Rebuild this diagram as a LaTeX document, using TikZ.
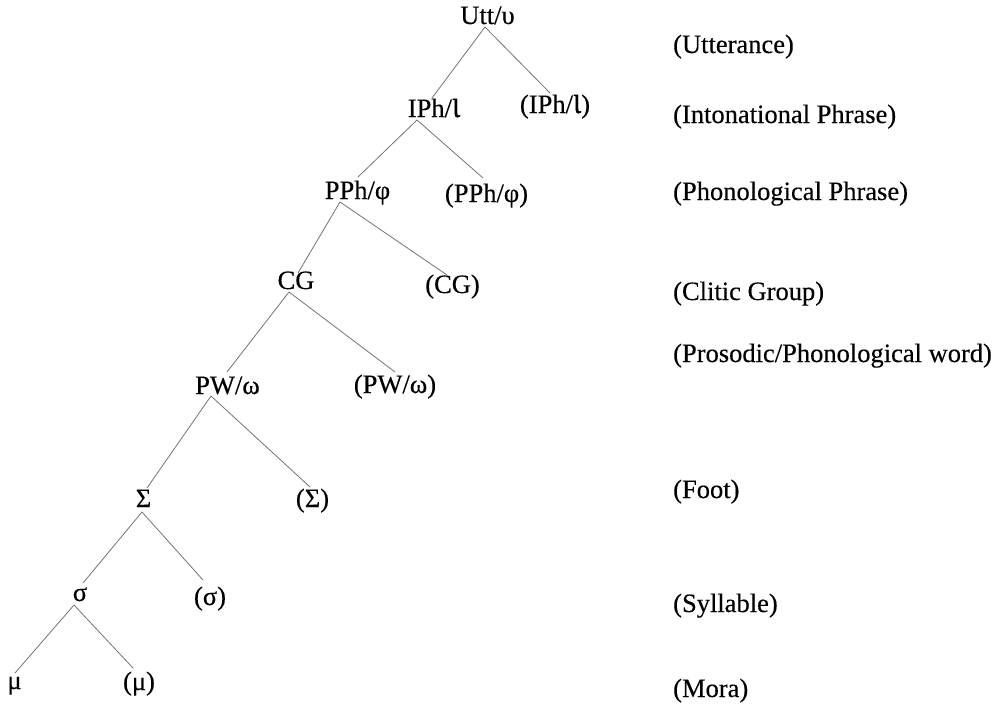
\documentclass[tikz,border=0pt]{standalone}
\usepackage{graphicx}
\usepackage{fontspec}
\setmainfont{Liberation Serif}[FakeBold=0.3]
\newcommand{\tiota}{\raisebox{0pt}{\scalebox{1.15}[1.5]{ι}}}
\begin{document}
\begin{tikzpicture}[x=1pt,y=-1pt,
  tn/.style={anchor=base,inner sep=0pt,font=\fontsize{26.5}{30}\selectfont},
  lab/.style={anchor=base west,inner sep=0pt,font=\fontsize{26.5}{30}\selectfont},
  edge/.style={draw=black!55,line width=0.8pt}]
\useasboundingbox (0,0) rectangle (1002,705);
% tree nodes
\node[tn] (utt)  at (487.5,24)  {Utt/υ};
\node[tn] (iph)  at (434,117)   {IPh/\tiota};
\node[tn] (iphp) at (555,113)   {(IPh/\tiota)};
\node[tn] (pph)  at (357.5,199) {PPh/φ};
\node[tn] (pphp) at (486.5,202) {(PPh/φ)};
\node[tn] (cg)   at (296,289)   {CG};
\node[tn] (cgp)  at (452.5,293) {(CG)};
\node[tn] (pw)   at (227.5,394) {PW/ω};
\node[tn] (pwp)  at (395,393)   {(PW/ω)};
\node[tn] (ft)   at (143.5,507) {Σ};
\node[tn] (ftp)  at (312.5,507) {(Σ)};
\node[tn] (syl)  at (80,601)    {σ};
\node[tn] (sylp) at (210,605)   {(σ)};
\node[tn] (mu)   at (14.5,689)  {μ};
\node[tn] (mup)  at (139,690)   {(μ)};
% level labels
\node[lab] (l1) at (673,53)  {(Utterance)};
\node[lab] (l2) at (673,123) {(Intonational Phrase)};
\node[lab] (l3) at (673,200) {(Phonological Phrase)};
\node[lab] (l4) at (673,300) {(Clitic Group)};
\node[lab] (l5) at (673,362) {(Prosodic/Phonological word)};
\node[lab] (l6) at (673,498) {(Foot)};
\node[lab] (l7) at (673,612) {(Syllable)};
\node[lab] (l8) at (673,697) {(Mora)};
% connectors
\draw[edge] ([shift={(-2.5pt,-3pt)}]utt.base) -- ([shift={(-2pt,19pt)}]iph.base);
\draw[edge] ([shift={(-2.5pt,-3pt)}]utt.base) -- ([shift={(-5pt,20pt)}]iphp.base);
\draw[edge] ([shift={(-17pt,-3pt)}]iph.base) -- ([shift={(0.5pt,22pt)}]pph.base);
\draw[edge] ([shift={(-17pt,-3pt)}]iph.base) -- ([shift={(-3.5pt,24pt)}]pphp.base);
\draw[edge] ([shift={(-17.5pt,-3pt)}]pph.base) -- ([shift={(2pt,16pt)}]cg.base);
\draw[edge] ([shift={(-17.5pt,-3pt)}]pph.base) -- ([shift={(-5.5pt,18pt)}]cgp.base);
\draw[edge] ([shift={(-7pt,-3pt)}]cg.base) -- ([shift={(-0.5pt,22pt)}]pw.base);
\draw[edge] ([shift={(-7pt,-3pt)}]cg.base) -- ([shift={(0pt,21pt)}]pwp.base);
\draw[edge] ([shift={(-16.5pt,-2pt)}]pw.base) -- ([shift={(3.5pt,19pt)}]ft.base);
\draw[edge] ([shift={(-16.5pt,-2pt)}]pw.base) -- ([shift={(-2.5pt,20pt)}]ftp.base);
\draw[edge] ([shift={(-1.5pt,-5pt)}]ft.base) -- ([shift={(3pt,18pt)}]syl.base);
\draw[edge] ([shift={(-1.5pt,-5pt)}]ft.base) -- ([shift={(-7pt,25pt)}]sylp.base);
\draw[edge] ([shift={(-6pt,-4pt)}]syl.base) -- ([shift={(0.5pt,16pt)}]mu.base);
\draw[edge] ([shift={(-6pt,-4pt)}]syl.base) -- ([shift={(-6pt,22pt)}]mup.base);
\end{tikzpicture}
\end{document}
